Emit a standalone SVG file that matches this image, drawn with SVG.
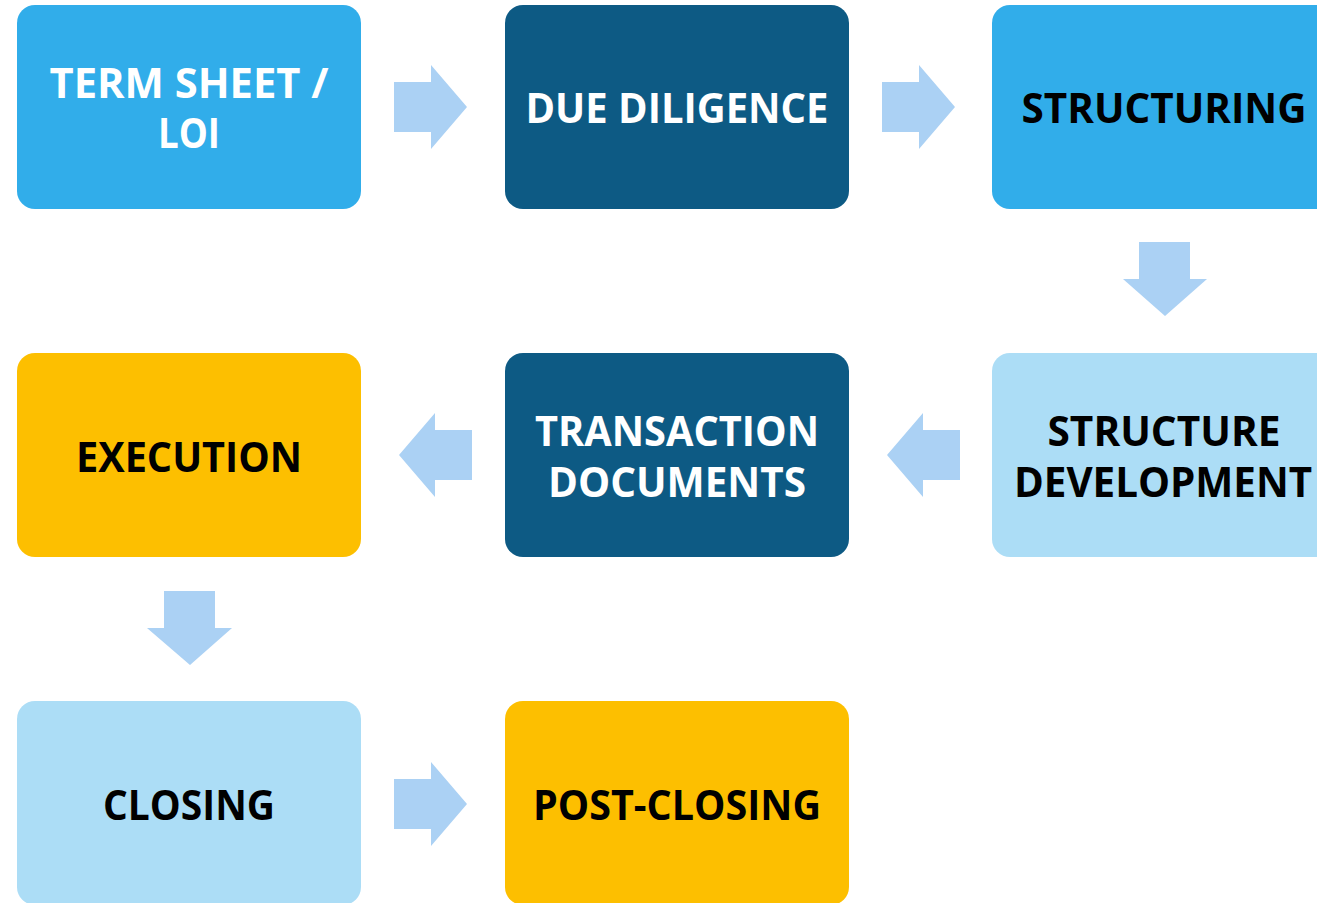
<svg xmlns="http://www.w3.org/2000/svg" width="1317" height="903" viewBox="0 0 1317 903">
<style>
.box{stroke:none}
.b1{fill:#31ADEA}
.b2{fill:#0D5A84}
.b3{fill:#ACDDF6}
.b4{fill:#FDBF00}
.t{font-family:"Open Sans","Liberation Sans",Arial,sans-serif;font-weight:bold;font-size:42px;text-anchor:middle}
.w{fill:#FFFFFF}
.k{fill:#000000}
.arr{fill:#ABD1F4}
</style>
<rect width="1317" height="903" fill="#FFFFFF"/>
<g id="connectors">
<polygon class="arr" points="394,82 431,82 431,65 467,107 431,149 431,132 394,132"/>
<polygon class="arr" points="882,82 919,82 919,65 955,107 919,149 919,132 882,132"/>
<polygon class="arr" points="1139,242 1190,242 1190,279 1207,279 1165,316 1123,279 1139,279"/>
<polygon class="arr" points="472,430 435,430 435,413 399,455 435,497 435,480 472,480"/>
<polygon class="arr" points="960,430 923,430 923,413 887,455 923,497 923,480 960,480"/>
<polygon class="arr" points="164,591 215,591 215,628 232,628 190,665 147,628 164,628"/>
<polygon class="arr" points="394,779 431,779 431,762 467,804 431,846 431,829 394,829"/>
</g>
<g id="term-sheet">
<rect class="box b1" x="17" y="5" width="344" height="204" rx="18"/>
<text class="t w" x="189" y="98" textLength="279" lengthAdjust="spacingAndGlyphs">TERM SHEET /</text>
<text class="t w" x="189" y="148" textLength="62" lengthAdjust="spacingAndGlyphs">LOI</text>
</g>
<g id="due-diligence">
<rect class="box b2" x="505" y="5" width="344" height="204" rx="18"/>
<text class="t w" x="677" y="123" textLength="303" lengthAdjust="spacingAndGlyphs">DUE DILIGENCE</text>
</g>
<g id="structuring">
<rect class="box b1" x="992" y="5" width="344" height="204" rx="18"/>
<text class="t k" x="1164" y="123" textLength="285" lengthAdjust="spacingAndGlyphs">STRUCTURING</text>
</g>
<g id="structure-development">
<rect class="box b3" x="992" y="353" width="344" height="204" rx="18"/>
<text class="t k" x="1164" y="446" textLength="233" lengthAdjust="spacingAndGlyphs">STRUCTURE</text>
<text class="t k" x="1163" y="497" textLength="298" lengthAdjust="spacingAndGlyphs">DEVELOPMENT</text>
</g>
<g id="transaction-documents">
<rect class="box b2" x="505" y="353" width="344" height="204" rx="18"/>
<text class="t w" x="677" y="446" textLength="284" lengthAdjust="spacingAndGlyphs">TRANSACTION</text>
<text class="t w" x="677" y="497" textLength="258" lengthAdjust="spacingAndGlyphs">DOCUMENTS</text>
</g>
<g id="execution">
<rect class="box b4" x="17" y="353" width="344" height="204" rx="18"/>
<text class="t k" x="189" y="472" textLength="226" lengthAdjust="spacingAndGlyphs">EXECUTION</text>
</g>
<g id="closing">
<rect class="box b3" x="17" y="701" width="344" height="204" rx="18"/>
<text class="t k" x="189" y="820" textLength="172" lengthAdjust="spacingAndGlyphs">CLOSING</text>
</g>
<g id="post-closing">
<rect class="box b4" x="505" y="701" width="344" height="204" rx="18"/>
<text class="t k" x="677" y="820" textLength="288" lengthAdjust="spacingAndGlyphs">POST-CLOSING</text>
</g>
</svg>
